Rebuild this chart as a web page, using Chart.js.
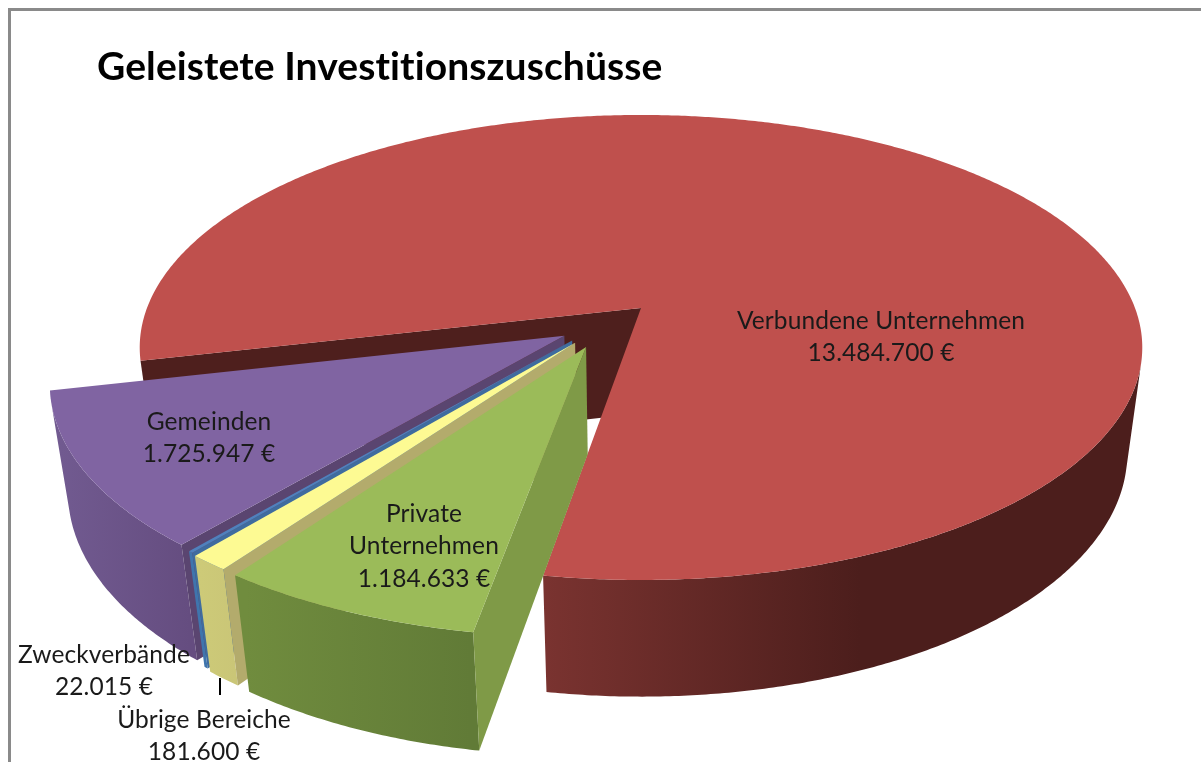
<!DOCTYPE html>
<html lang="de">
<head>
<meta charset="utf-8">
<title>Geleistete Investitionszuschüsse</title>
<script src="https://cdn.jsdelivr.net/npm/chart.js@4"></script>
<style>
  html, body { margin: 0; padding: 0; background: #fff; overflow: hidden; }
  #wrap { position: relative; width: 1201px; height: 762px; }
  #frame { position: absolute; left: 8px; top: 8px; right: 0; bottom: 0; border-left: 3px solid #8a8a8a; border-top: 3px solid #8a8a8a; }
</style>
</head>
<body>
<div id="wrap">
  <canvas id="chart" width="1201" height="762"></canvas>
  <div id="frame"></div>
</div>
<script>
const chartTitle = "Geleistete Investitionszuschüsse";
// clockwise from the front of the pie
const categories = ["Private Unternehmen", "Übrige Bereiche", "Zweckverbände", "Gemeinden", "Verbundene Unternehmen"];
const amounts = [1184633, 181600, 22015, 1725947, 13484700];
const labelLines = [["Private", "Unternehmen"], ["Übrige Bereiche"], ["Zweckverbände"], ["Gemeinden"], ["Verbundene Unternehmen"]];

const topColors = ["#9bbb59", "#fdfa93", "#4f81bd", "#8064a2", "#bf504d"];
const faceColors = ["#7f9a47", "#b3ab6c", "#3f6c9f", "#5a4570", "#4e1f1d"];
const wallColors = [
  [246, 470, "#708c3e", "#617b37"],
  [200, 235, "#cdca78", "#cac677"],
  [190, 200, "#3f75ad", "#3f75ad"],
  [60, 190, "#715a90", "#654d80"],
  [543, 860, "#7a3330", "#4c1e1c"]
];
const sliceShift = [[-0.108, 0.168], [-0.13, 0.15], [-0.136, 0.14], [-0.152, 0.12], [0, 0]];
const labelPos = [[424, 514], [204, 720], [104, 655], [209, 422], [881, 321]];

// perspective of the tilted pie
const view = { a: 494, b: 225.8, h: 108.5, p: 0.1698, q: 0.03 };
const LINE_HEIGHT = 32.5;

function formatEuro(value) {
  return value.toLocaleString("de-DE") + " €";
}

function project(arc, shift, angle, radius, z) {
  const u = shift[0] + radius * Math.cos(angle);
  const v = shift[1] + radius * Math.sin(angle);
  const w = 1 - view.p * v + view.q * z;
  return [arc.x + view.a * u / w, arc.y + (view.b * v + view.h * z) / w];
}

function tracePolygon(ctx, points) {
  points.forEach((point, i) => {
    if (i === 0) ctx.moveTo(point[0], point[1]);
    else ctx.lineTo(point[0], point[1]);
  });
  ctx.closePath();
}

function fillPolygon(ctx, points, color) {
  ctx.beginPath();
  tracePolygon(ctx, points);
  ctx.fillStyle = color;
  ctx.fill();
}

function signedArea(points) {
  let sum = 0;
  points.forEach((point, i) => {
    const next = points[(i + 1) % points.length];
    sum += point[0] * next[1] - next[0] * point[1];
  });
  return sum;
}

function drawSlice(ctx, arc, index) {
  const shift = sliceShift[index];
  const props = arc.getProps(["x", "y", "startAngle", "endAngle"], true);
  const steps = Math.max(2, Math.ceil((props.endAngle - props.startAngle) / 0.008));
  const angleAt = (i) => props.startAngle + (props.endAngle - props.startAngle) * i / steps;

  // outer wall: only the strips that face the viewer, in one path so there are no seams
  const spec = wallColors[index];
  const gradient = ctx.createLinearGradient(spec[0], 0, spec[1], 0);
  gradient.addColorStop(0, spec[2]);
  gradient.addColorStop(1, spec[3]);
  ctx.beginPath();
  for (let i = 0; i < steps; i++) {
    const quad = [
      project(props, shift, angleAt(i), 1, 0),
      project(props, shift, angleAt(i + 1), 1, 0),
      project(props, shift, angleAt(i + 1), 1, 1),
      project(props, shift, angleAt(i), 1, 1)
    ];
    if (signedArea(quad) < 0) tracePolygon(ctx, quad);
  }
  ctx.fillStyle = gradient;
  ctx.fill();

  // radial face on the near side
  fillPolygon(ctx, [
    project(props, shift, 0, 0, 0),
    project(props, shift, props.startAngle, 1, 0),
    project(props, shift, props.startAngle, 1, 1),
    project(props, shift, 0, 0, 1)
  ], faceColors[index]);

  // top surface
  const top = [project(props, shift, 0, 0, 0)];
  for (let i = 0; i <= steps; i++) {
    top.push(project(props, shift, angleAt(i), 1, 0));
  }
  fillPolygon(ctx, top, arc.options.backgroundColor);
}

function drawLabels(ctx) {
  ctx.save();
  ctx.font = "24.5px Lato";
  ctx.letterSpacing = "0.1px";
  ctx.fillStyle = "#1a1a1a";
  ctx.textAlign = "center";
  ctx.textBaseline = "middle";
  categories.forEach((category, i) => {
    const lines = labelLines[i].concat(formatEuro(amounts[i]));
    lines.forEach((line, k) => {
      ctx.fillText(line, labelPos[i][0], labelPos[i][1] + k * LINE_HEIGHT);
    });
  });
  // leader line of the Übrige Bereiche label
  ctx.strokeStyle = "#000";
  ctx.lineWidth = 2;
  ctx.beginPath();
  ctx.moveTo(220, 678);
  ctx.lineTo(220, 695);
  ctx.stroke();
  ctx.restore();
}

const pie3d = {
  id: "pie3d",
  beforeDraw(chart) {
    // a small spacing also switches off the "ti" ligature of the title font
    chart.ctx.letterSpacing = "0.1px";
  },
  beforeDatasetsDraw(chart) {
    const ctx = chart.ctx;
    const arcs = chart.getDatasetMeta(0).data;
    ctx.save();
    for (let i = arcs.length - 1; i >= 0; i--) {
      drawSlice(ctx, arcs[i], i);
    }
    ctx.restore();
    drawLabels(ctx);
    return false;
  }
};

new Chart(document.getElementById("chart"), {
  type: "pie",
  data: {
    labels: categories,
    datasets: [
      {
        data: amounts,
        backgroundColor: topColors,
        borderWidth: 0
      }
    ]
  },
  options: {
    responsive: false,
    animation: false,
    rotation: 189.5,
    layout: { padding: { left: 97, right: 16, top: 0, bottom: 240.4 } },
    plugins: {
      legend: { display: false },
      tooltip: { enabled: false },
      title: {
        display: true,
        text: chartTitle,
        align: "start",
        color: "#000",
        font: { family: "Lato", size: 39, weight: "bold" },
        padding: { top: 43.6, bottom: 4 }
      }
    }
  },
  plugins: [pie3d]
});
</script>
</body>
</html>
